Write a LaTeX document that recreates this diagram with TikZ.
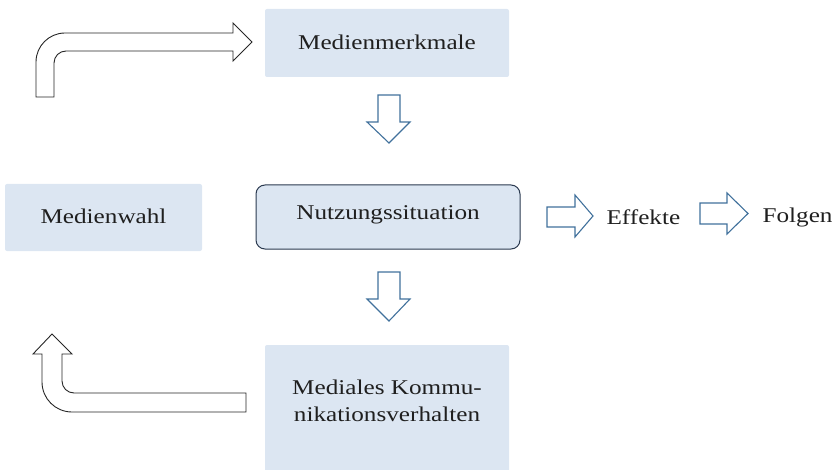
\documentclass[tikz,border=0pt]{standalone}
\usepackage{fontspec}
\setmainfont[FakeStretch=1.2]{Liberation Serif}
\definecolor{boxfill}{HTML}{DCE6F2}
\definecolor{arrowblue}{HTML}{41719C}
\definecolor{darkframe}{HTML}{2B3A50}
\begin{document}
\begin{tikzpicture}[x=1pt,y=-1pt,
  lbl/.style={font=\fontsize{21}{27}\selectfont, text=black!88},
  blockarrow/.style={draw=arrowblue, line width=1.1pt, fill=white, line join=miter},
  bentarrow/.style={draw=black!85, line width=0.9pt, fill=white}]
\useasboundingbox (0,0) rectangle (837,470);
% boxes
\fill[boxfill, rounded corners=2pt] (265,9) rectangle (509,77);
\node[lbl] (mm) at (387,42) {Medienmerkmale};
\fill[boxfill, rounded corners=2pt] (5,184) rectangle (202,251);
\node[lbl] (mw) at (103.5,216) {Medienwahl};
\draw[fill=boxfill, draw=darkframe, line width=1pt, rounded corners=9pt] (256,185) rectangle (520,249);
\node[lbl] (nu) at (388,215) {Nutzungssituation};
\fill[boxfill, rounded corners=2pt] (265,345) rectangle (509,472);
\node[lbl, align=center] (mk) at (387,401) {Mediales Kommu-\\nikationsverhalten};
\node[lbl, anchor=base west] (ef) at (603,225) {Effekte};
\node[lbl, anchor=base west] (fo) at (759,223) {Folgen};
% down arrows
\draw[blockarrow] (378,95) -- (400,95) -- (400,122) -- (410,122) -- (389,143) -- (367,122) -- (378,122) -- cycle;
\draw[blockarrow] (378,272) -- (400,272) -- (400,299) -- (410,299) -- (389,321) -- (367,299) -- (378,299) -- cycle;
% right arrows
\draw[blockarrow] (547,207) -- (575,207) -- (575,195) -- (593,216) -- (575,237) -- (575,227) -- (547,227) -- cycle;
\draw[blockarrow] (700,203) -- (727,203) -- (727,193) -- (748,213.5) -- (727,234) -- (727,224) -- (700,224) -- cycle;
% bent arrows
\draw[bentarrow] (36,97) -- (36,62) .. controls (36,46) and (49,33) .. (65,33) -- (233,33) -- (233,23) -- (252,42) -- (233,61) -- (233,51) -- (66,51) .. controls (59.4,51) and (54,56.4) .. (54,63) -- (54,97) -- cycle;
\draw[bentarrow] (52,334) -- (72,354) -- (62,354) -- (62,381) .. controls (62,387.6) and (67.4,393) .. (74,393) -- (246,393) -- (246,412) -- (72,412) .. controls (55.4,412) and (42,398.6) .. (42,382) -- (42,354) -- (33,354) -- cycle;
\end{tikzpicture}
\end{document}
